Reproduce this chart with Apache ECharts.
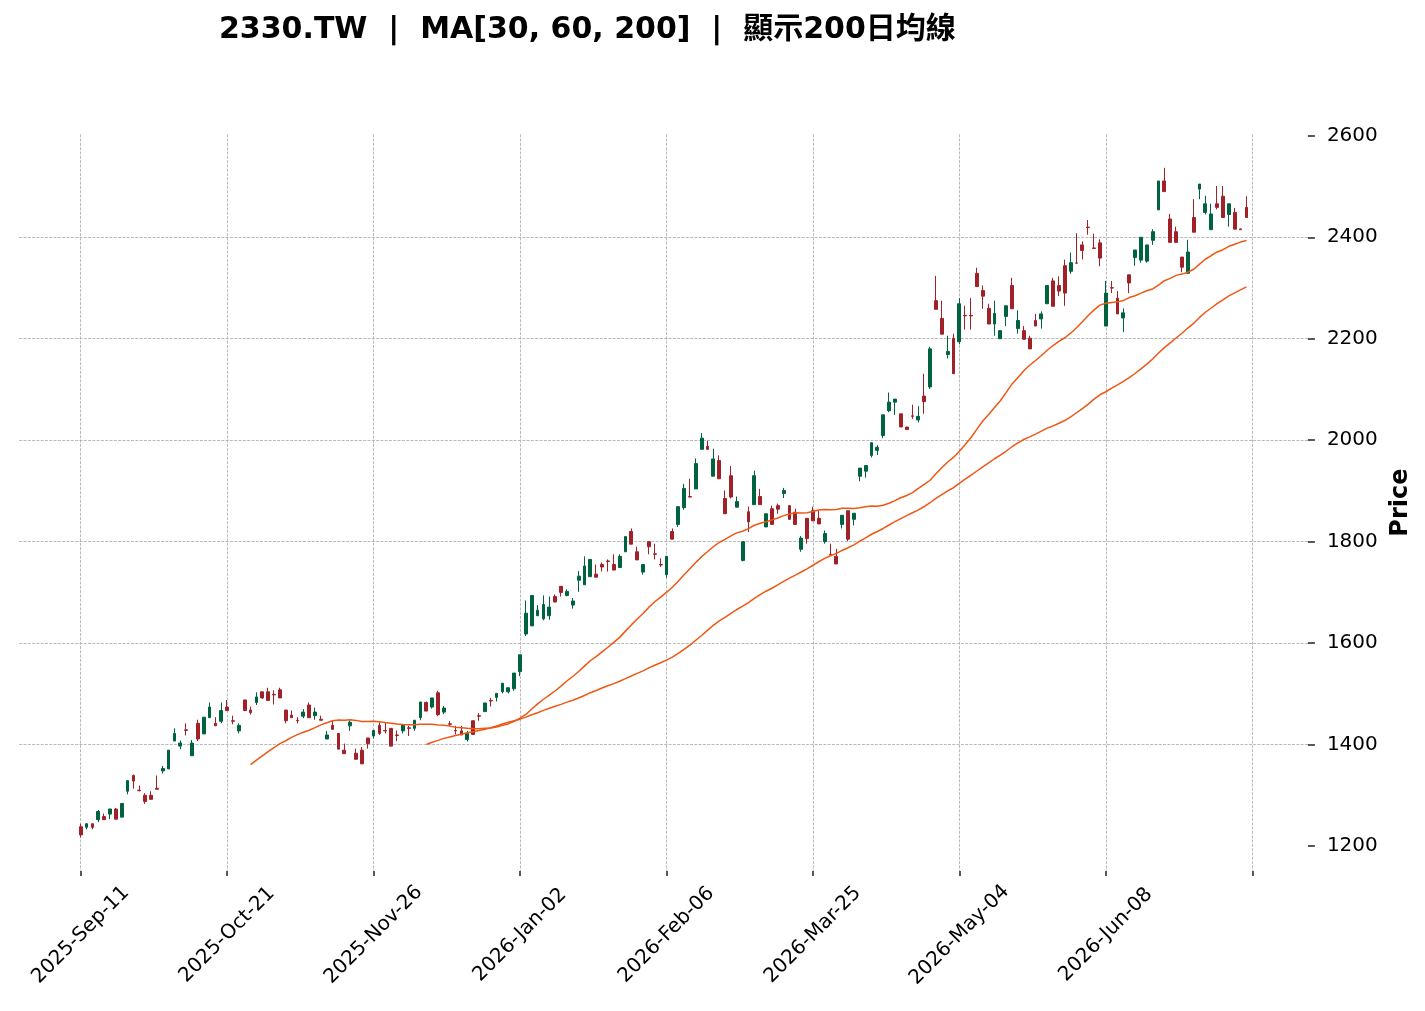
<!DOCTYPE html>
<html>
<head>
<meta charset="utf-8">
<script src="https://cdn.jsdelivr.net/npm/echarts@6/dist/echarts.min.js"></script>
<style>
html,body{margin:0;padding:0;background:#ffffff;}
#chart{width:1425px;height:1011px;}
</style>
</head>
<body>
<div id="chart"></div>
<script>
const titleText = '2330.TW  |  MA[30, 60, 200]  |  顯示200日均線';

const opens = [1238,1237,1244,1252,1258,1263,1273,1257,1308,1339,
1310,1300,1300,1314,1348,1352,1407,1397,1429,1378,
1442,1421,1453,1442,1446,1474,1447,1427,1488,1468,
1483,1504,1504,1499,1508,1468,1458,1448,1456,1478,
1457,1450,1411,1438,1422,1389,1437,1383,1389,1413,
1417,1438,1428,1432,1419,1427,1433,1432,1453,1483,
1474,1502,1464,1441,1428,1427,1410,1447,1457,1465,
1487,1493,1504,1504,1510,1544,1618,1634,1654,1648,
1654,1692,1712,1694,1675,1724,1715,1731,1736,1755,
1762,1755,1749,1780,1820,1780,1740,1800,1776,1755,
1735,1820,1834,1867,1889,1904,1982,1988,1929,1960,
1885,1930,1868,1763,1859,1873,1889,1829,1865,1871,
1895,1871,1858,1785,1846,1861,1846,1800,1775,1771,
1834,1861,1844,1929,1939,1970,1980,2009,2058,2075,
2052,2026,2048,2040,2087,2105,2275,2240,2169,2201,
2194,2246,2246,2329,2295,2260,2229,2200,2244,2305,
2220,2216,2201,2236,2239,2269,2314,2305,2344,2333,
2349.5,2385,2420,2379,2389,2225,2300.5,2280,2241,2326,
2360,2355,2353,2394,2454,2511,2436,2411,2361,2329,
2439,2495,2449,2415,2466,2481,2445,2449,2416.5,2459];

const closes = [1222,1244,1237,1268,1252,1273,1253,1284,1329,1328,
1309,1288,1292,1312,1353,1389,1422,1403,1428,1403,
1411,1454,1474,1437,1467,1467,1446,1438,1467,1463,
1494,1492,1487,1498,1492,1447,1453,1447,1464,1453,
1464,1448,1419,1430,1391,1382,1444,1371,1362,1402,
1428,1422,1427,1397,1418,1438,1432,1448,1484,1466,
1492,1459,1472,1440,1427,1419,1422,1420,1456,1482,
1486,1501,1521,1512,1541,1577,1659,1694,1665,1676,
1671,1681,1700,1702,1683,1732,1752,1765,1730,1750,
1761,1744,1771,1810,1795,1764,1755,1790,1775,1754,
1771,1805,1869,1905,1888,1954,2004,1982,1963,1924,
1855,1888,1879,1800,1839,1930,1873,1855,1834,1864,
1901,1844,1834,1807,1806,1841,1835,1816,1774,1756,
1852,1805,1856,1945,1950,1995,1986,2050,2075,2081,
2026,2021,2047,2047,2076,2180,2258,2209,2175,2131,
2269,2245,2245,2303,2284,2229,2250,2216,2265,2259,
2236,2199,2180,2225,2249,2305,2264,2294,2290,2350,
2349,2374,2419,2378,2359,2290,2300,2249,2251,2310,
2375,2400,2385,2411,2511,2490,2390,2390,2341,2371,
2410,2505,2466,2446,2459,2439,2466,2416,2415,2439];

const highs = [1244,1244,1244,1271,1264,1273,1275,1284,1329,1341,
1319,1304,1308,1339,1358,1389,1432,1408,1442,1409,
1449,1454,1483,1454,1483,1488,1457,1442,1488,1475,
1503,1504,1512,1507,1512,1468,1467,1454,1470,1483,
1473,1457,1427,1447,1422,1402,1448,1392,1395,1413,
1428,1444,1444,1432,1428,1438,1437,1448,1484,1485,
1492,1506,1476,1446,1437,1437,1427,1447,1462,1482,
1492,1501,1521,1513,1541,1577,1684,1694,1675,1694,
1692,1696,1712,1706,1689,1742,1771,1765,1755,1759,
1765,1775,1775,1810,1826,1790,1755,1800,1796,1767,
1771,1826,1869,1914,1924,1964,2014,1999,1983,1970,
1901,1949,1889,1800,1869,1940,1904,1855,1871,1875,
1906,1871,1865,1811,1846,1869,1861,1822,1796,1786,
1852,1861,1856,1945,1950,1995,1990,2050,2094,2081,
2052,2026,2070,2067,2131,2184,2324,2275,2206,2210,
2280,2265,2280,2340,2305,2269,2275,2216,2265,2320,
2256,2225,2206,2249,2254,2305,2320,2323,2356,2370,
2408,2392,2434,2407,2396,2314,2314,2294,2260,2326,
2375,2400,2385,2416,2511,2537,2446,2421,2361,2395,
2475,2505,2482,2466,2501,2501,2466,2458,2417,2481];

const lows = [1217,1233,1233,1247,1252,1253,1253,1257,1302,1313,
1308,1283,1292,1312,1343,1352,1407,1391,1418,1378,
1407,1421,1453,1437,1442,1467,1440,1422,1467,1459,
1478,1490,1487,1479,1492,1442,1453,1442,1452,1453,
1449,1448,1411,1430,1391,1382,1427,1371,1362,1392,
1412,1419,1422,1397,1407,1422,1417,1427,1448,1466,
1471,1456,1460,1436,1420,1419,1406,1420,1447,1465,
1475,1485,1501,1501,1506,1535,1614,1634,1654,1645,
1646,1681,1692,1692,1668,1701,1715,1731,1730,1741,
1741,1744,1749,1780,1795,1764,1735,1775,1765,1750,
1729,1805,1829,1863,1887,1904,1982,1982,1929,1924,
1855,1885,1868,1761,1819,1873,1873,1829,1834,1855,
1886,1844,1834,1780,1796,1841,1835,1796,1774,1756,
1826,1801,1832,1919,1926,1966,1971,2004,2055,2050,
2026,2021,2042,2035,2052,2101,2258,2209,2161,2131,
2189,2218,2218,2303,2259,2229,2206,2200,2225,2259,
2210,2199,2180,2225,2220,2269,2264,2284,2265,2328,
2349,2356,2405,2378,2343,2225,2290,2249,2213,2290,
2344,2350,2350,2385,2454,2490,2390,2390,2331,2329,
2410,2475,2445,2415,2455,2439,2421,2416,2415,2439];

const tickLabels = ['2025-Sep-11','2025-Oct-21','2025-Nov-26','2026-Jan-02',
                    '2026-Feb-06','2026-Mar-25','2026-May-04','2026-Jun-08'];
const tickStep = 25;
const lastTickIndex = 200;
const yTicks = [1200,1400,1600,1800,2000,2200,2400,2600];
const maPeriods = [30,60,200];

const upColor = '#006340';
const downColor = '#a02128';
const maColor = '#ef5714';
const FONT = 'DejaVu Sans, "Noto Sans CJK TC", sans-serif';

// x axis: bar positions from -10 to 209 (index space of the original plot)
const xStart = -10, xEnd = 209;
const n = closes.length;
const cats = [];
for (let i = xStart; i <= xEnd; i++) cats.push(String(i));

const candleData = cats.map(c => {
  const i = Number(c);
  return (i >= 0 && i < n) ? [opens[i], closes[i], lows[i], highs[i]] : '-';
});

function movingAverage(vals, p) {
  const out = [];
  let s = 0;
  for (let i = 0; i < vals.length; i++) {
    s += vals[i];
    if (i >= p) s -= vals[i - p];
    out.push(i >= p - 1 ? s / p : null);
  }
  return out;
}

const maSeries = maPeriods.map(p => {
  const ma = movingAverage(closes, p);
  return {
    name: 'MA' + p,
    type: 'line',
    data: cats.map(c => { const i = Number(c); return (i >= 0 && i < n && ma[i] != null) ? ma[i] : null; }),
    showSymbol: false,
    symbol: 'none',
    connectNulls: false,
    lineStyle: { color: maColor, width: 1.5 },
    z: 4,
    silent: true
  };
});

const isTick = (idx, val) => { const v = Number(val); return v >= 0 && v <= lastTickIndex && v % tickStep === 0; };
const isLabel = (idx, val) => { const v = Number(val); return v >= 0 && v % tickStep === 0 && (v / tickStep) < tickLabels.length; };

const chart = echarts.init(document.getElementById('chart'), null, { renderer: 'canvas' });
chart.setOption({
  animation: false,
  backgroundColor: '#ffffff',
  title: {
    text: titleText,
    left: 214,
    top: 10,
    textStyle: { fontFamily: FONT, fontSize: 30, fontWeight: 'bold', color: '#000000' }
  },
  grid: { left: 19.2, right: 117.1, top: 134.3, bottom: 140.1, containLabel: false },
  xAxis: {
    type: 'category',
    data: cats,
    boundaryGap: true,
    axisLine: { show: false },
    axisTick: { show: true, interval: isTick, alignWithLabel: true, length: 5, lineStyle: { color: '#222222', width: 1.5 } },
    axisLabel: {
      show: true, interval: isLabel, rotate: 45, align: 'center', verticalAlign: 'middle', margin: 64,
      fontFamily: FONT, fontSize: 20, color: '#000000',
      formatter: v => { const k = Number(v) / tickStep; return tickLabels[k] || ''; }
    },
    splitLine: { show: true, interval: isTick, alignWithLabel: true, lineStyle: { color: '#a8a8a8', width: 0.8, type: [3, 1.3] } }
  },
  yAxis: {
    type: 'value',
    position: 'right',
    min: 1151,
    max: 2603,
    scale: true,
    axisLine: { show: false },
    axisTick: { show: true, customValues: yTicks, length: 7, lineStyle: { color: '#222222', width: 1.5 } },
    axisLabel: { show: true, customValues: yTicks, margin: 19, fontFamily: FONT, fontSize: 20, color: '#000000',
                 formatter: v => String(v) },
    splitLine: { show: true, showMinLine: false, showMaxLine: false, lineStyle: { color: '#a8a8a8', width: 0.8, type: [3, 1.3] } },
    name: 'Price',
    nameLocation: 'middle',
    nameRotate: 90,
    nameGap: 78,
    nameTextStyle: { fontFamily: FONT, fontSize: 24, fontWeight: 'bold', color: '#000000' }
  },
  series: [
    {
      name: '2330.TW',
      type: 'candlestick',
      data: candleData,
      barWidth: '56%',
      z: 3,
      silent: true,
      itemStyle: { color: upColor, color0: downColor, borderColor: upColor, borderColor0: downColor, borderWidth: 1 }
    }
  ].concat(maSeries)
});
</script>
</body>
</html>
